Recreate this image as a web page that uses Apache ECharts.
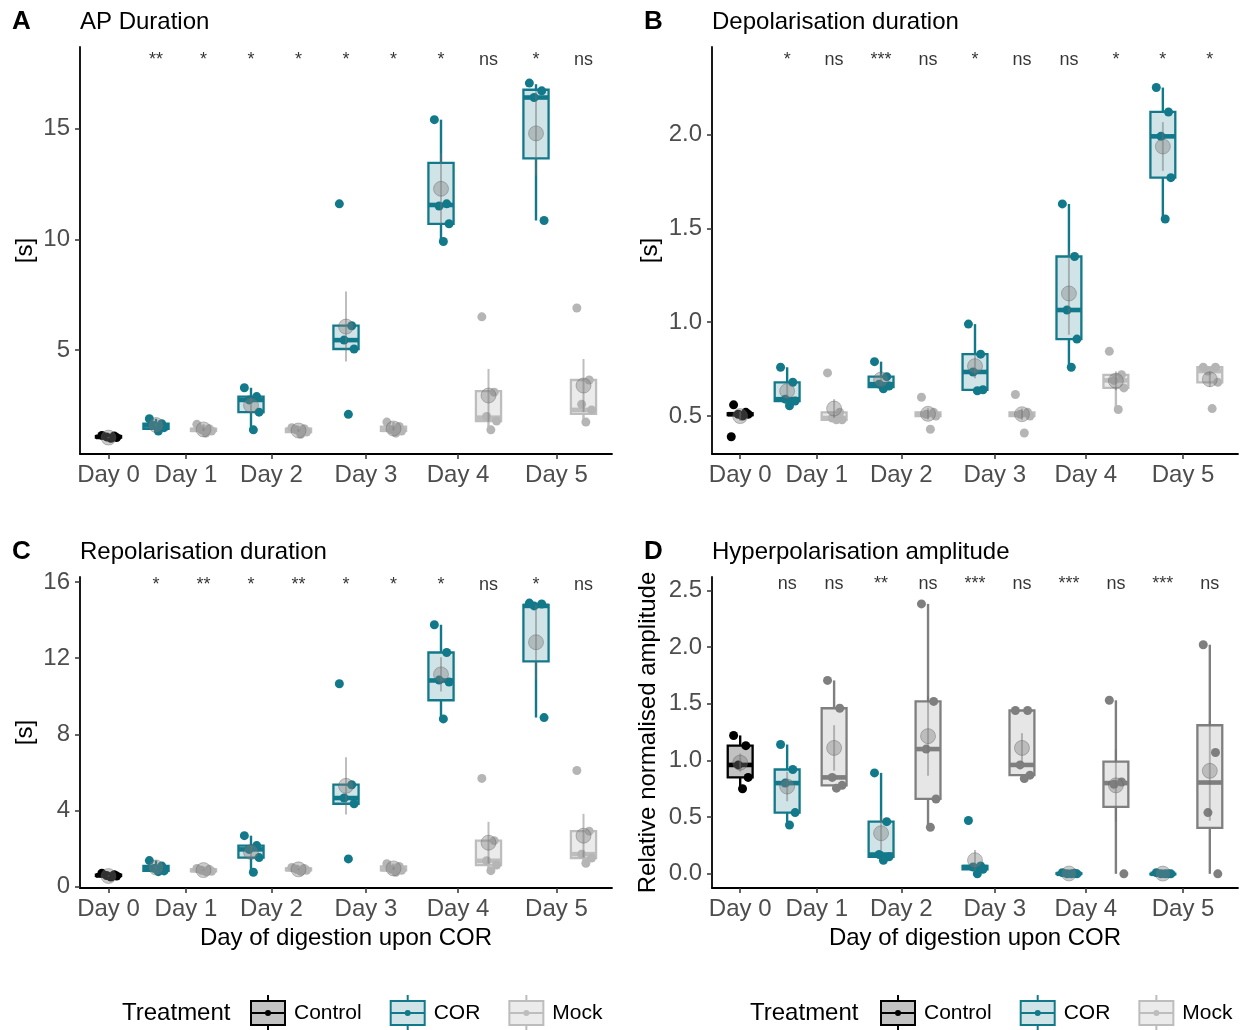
<!DOCTYPE html>
<html>
<head>
<meta charset="utf-8">
<script src="https://cdn.jsdelivr.net/npm/echarts@6/dist/echarts.min.js"></script>
<style>
html, body { margin: 0; background: #fff; }
#main { width: 1245px; height: 1030px; }
</style>
</head>
<body>
<div id="main"></div>
<script>
// groups along x: Day 0 control, then COR / Mock for days 1..5
var treatment = ['Control', 'COR', 'Mock', 'COR', 'Mock', 'COR', 'Mock', 'COR', 'Mock', 'COR', 'Mock'];
var dayTicks = [0, 1.63, 3.43, 5.42, 7.36, 9.43];
var dayLabels = ['Day 0', 'Day 1', 'Day 2', 'Day 3', 'Day 4', 'Day 5'];

// A - AP duration [s]; box = [min, q1, median, q3, max]
var apBox = [
  [1.02, 1.05, 1.08, 1.12, 1.15], [1.35, 1.45, 1.6, 1.68, 1.9], [1.25, 1.35, 1.4, 1.45, 1.65],
  [1.4, 2.2, 2.75, 2.9, 3.3], [1.2, 1.3, 1.4, 1.45, 1.5], [5.05, 5.05, 5.45, 6.1, 6.1],
  [1.25, 1.35, 1.4, 1.55, 1.75], [9.9, 10.7, 11.55, 13.45, 15.4], [1.4, 1.8, 1.95, 3.15, 3.15],
  [10.85, 13.65, 16.4, 16.75, 17.0], [1.75, 2.12, 2.3, 3.65, 3.65]
];
var apPoints = [
  [1.15, 1.12, 1.08, 1.05, 1.02], [1.9, 1.68, 1.6, 1.5, 1.35], [1.65, 1.45, 1.4, 1.35, 1.25],
  [3.3, 2.9, 2.75, 2.2, 1.4], [1.5, 1.45, 1.4, 1.3, 1.2], [11.6, 6.1, 5.45, 5.05, 2.1],
  [1.75, 1.55, 1.4, 1.35, 1.25], [15.4, 11.6, 11.5, 10.7, 9.9], [6.5, 3.1, 2.0, 1.8, 1.4],
  [17.05, 16.7, 16.4, 10.85], [6.9, 3.65, 2.55, 2.3, 1.75]
];
var apMean = [1.05, 1.62, 1.42, 2.51, 1.37, 6.06, 1.46, 12.28, 2.95, 14.78, 3.4];
var apSE = [0.03, 0.09, 0.07, 0.33, 0.05, 1.58, 0.09, 1.6, 1.2, 1.9, 1.2];
var apSig = ['**', '*', '*', '*', '*', '*', '*', 'ns', '*', 'ns'];

// B - depolarisation duration [s]
var depBox = [
  [0.5, 0.505, 0.51, 0.515, 0.52], [0.555, 0.58, 0.59, 0.68, 0.76], [0.48, 0.48, 0.49, 0.52, 0.52],
  [0.645, 0.655, 0.67, 0.71, 0.79], [0.5, 0.5, 0.51, 0.52, 0.52], [0.635, 0.64, 0.735, 0.83, 0.99],
  [0.5, 0.5, 0.51, 0.52, 0.52], [0.76, 0.91, 1.065, 1.35, 1.63], [0.535, 0.65, 0.69, 0.72, 0.72],
  [1.55, 1.77, 1.99, 2.12, 2.25], [0.68, 0.68, 0.74, 0.76, 0.76]
];
var depPoints = [
  [0.56, 0.52, 0.51, 0.51, 0.5, 0.39], [0.76, 0.68, 0.59, 0.58, 0.555], [0.73, 0.52, 0.49, 0.48, 0.48],
  [0.79, 0.71, 0.67, 0.66, 0.645], [0.6, 0.52, 0.51, 0.5, 0.43], [0.99, 0.83, 0.735, 0.64, 0.635],
  [0.615, 0.52, 0.51, 0.5, 0.41], [1.63, 1.35, 1.065, 0.91, 0.76], [0.845, 0.72, 0.69, 0.65, 0.535],
  [2.25, 2.12, 1.99, 1.77, 1.55], [0.76, 0.76, 0.74, 0.68, 0.54]
];
var depMean = [0.5, 0.633, 0.54, 0.695, 0.512, 0.766, 0.51, 1.153, 0.688, 1.936, 0.696];
var depSE = [0.025, 0.04, 0.05, 0.03, 0.03, 0.065, 0.03, 0.22, 0.05, 0.13, 0.04];
var depSig = ['*', 'ns', '***', 'ns', '*', 'ns', 'ns', '*', '*', '*'];

// C - repolarisation duration [s]
var repBox = [
  [0.5, 0.55, 0.58, 0.62, 0.7], [0.78, 0.82, 0.95, 1.08, 1.36], [0.78, 0.8, 0.85, 0.9, 0.95],
  [0.75, 1.52, 1.95, 2.15, 2.67], [0.8, 0.85, 0.9, 0.95, 1.0], [4.35, 4.35, 4.65, 5.35, 5.35],
  [0.75, 0.85, 0.9, 1.05, 1.2], [8.81, 9.79, 10.83, 12.3, 13.76], [0.83, 1.13, 1.35, 2.41, 2.41],
  [8.88, 11.83, 14.75, 14.8, 14.9], [1.22, 1.49, 1.7, 2.91, 2.91]
];
var repPoints = [
  [0.7, 0.62, 0.58, 0.55, 0.5], [1.36, 1.08, 0.95, 0.82, 0.78], [0.95, 0.9, 0.85, 0.8, 0.78],
  [2.67, 2.15, 1.95, 1.52, 0.75], [1.0, 0.95, 0.9, 0.85, 0.8], [10.66, 5.35, 4.65, 4.35, 1.45],
  [1.2, 1.05, 0.9, 0.85, 0.75], [13.76, 12.3, 10.85, 10.75, 8.81], [5.68, 2.41, 1.35, 1.13, 0.83],
  [14.9, 14.85, 14.75, 8.88], [6.1, 2.91, 1.7, 1.5, 1.22]
];
var repMean = [0.55, 1.0, 0.86, 1.81, 0.9, 5.29, 0.95, 11.15, 2.3, 12.84, 2.67];
var repSE = [0.03, 0.1, 0.03, 0.32, 0.03, 1.5, 0.08, 0.9, 1.1, 1.97, 1.15];
var repSig = ['*', '**', '*', '**', '*', '*', '*', 'ns', '*', 'ns'];

// D - hyperpolarisation amplitude (relative)
var hypBox = [
  [0.755, 0.85, 0.96, 1.13, 1.22], [0.43, 0.54, 0.8, 0.92, 1.14], [0.755, 0.78, 0.85, 1.46, 1.705],
  [0.12, 0.15, 0.17, 0.46, 0.89], [0.41, 0.66, 1.1, 1.52, 2.38], [0.0, 0.04, 0.06, 0.07, 0.07],
  [0.84, 0.87, 0.96, 1.44, 1.44], [0.0, 0.0, 0.0, 0.005, 0.01], [0.0, 0.59, 0.8, 0.99, 1.53],
  [0.0, 0.0, 0.0, 0.0, 0.01], [0.0, 0.405, 0.805, 1.31, 2.02]
];
var hypPoints = [
  [1.22, 1.13, 0.96, 0.85, 0.75], [1.14, 0.92, 0.8, 0.54, 0.43], [1.705, 1.46, 0.85, 0.78, 0.755],
  [0.89, 0.46, 0.17, 0.15, 0.12], [2.38, 1.52, 1.1, 0.66, 0.41], [0.47, 0.07, 0.06, 0.04, 0.0],
  [1.44, 1.44, 0.96, 0.87, 0.84], [0.01, 0.005, 0.0, 0.0, 0.0], [1.53, 0.81, 0.79, 0.0],
  [0.01, 0.0, 0.0, 0.0, 0.0], [2.02, 1.07, 0.54, 0.0]
];
var hypMean = [0.98, 0.77, 1.11, 0.358, 1.214, 0.12, 1.11, 0.003, 0.78, 0.002, 0.908];
var hypSE = [0.08, 0.13, 0.2, 0.15, 0.35, 0.09, 0.13, 0.003, 0.32, 0.002, 0.44];
var hypSig = ['ns', 'ns', '**', 'ns', '***', 'ns', '***', 'ns', '***', 'ns'];

var FONT = '"Liberation Sans", Arial, sans-serif';
var TEAL = '#12798a';
var JIT = [-0.14, 0.12, -0.04, 0.17, 0.05, -0.19];

var styles = {
  Control: { stroke: '#000', fill: '#c2c2c2', point: '#000' },
  COR: { stroke: TEAL, fill: 'rgba(18,121,138,0.2)', point: TEAL },
  Mock: { stroke: '#bdbdbd', fill: '#ebebeb', point: '#b5b5b5' },
  MockDark: { stroke: '#7f7f7f', fill: '#e6e6e6', point: '#7f7f7f' }
};

var panels = [
  { letter: 'A', title: 'AP Duration', box: apBox, points: apPoints, mean: apMean, se: apSE, sig: apSig, sigY: 18.1,
    left: 80, top: 47, width: 532, height: 407, yMin: 0.31, yMax: 18.68, yTicks: [5, 10, 15], dec: 0,
    yName: '[s]', nameGap: 43, xName: '', mock: 'Mock' },
  { letter: 'B', title: 'Depolarisation duration', box: depBox, points: depPoints, mean: depMean, se: depSE, sig: depSig, sigY: 2.394,
    left: 712, top: 47, width: 526, height: 407, yMin: 0.298, yMax: 2.466, yTicks: [0.5, 1.0, 1.5, 2.0], dec: 1,
    yName: '[s]', nameGap: 50, xName: '', mock: 'Mock' },
  { letter: 'C', title: 'Repolarisation duration', box: repBox, points: repPoints, mean: repMean, se: repSE, sig: repSig, sigY: 15.83,
    left: 80, top: 577, width: 532, height: 311, yMin: -0.08, yMax: 16.27, yTicks: [0, 4, 8, 12, 16], dec: 0,
    yName: '[s]', nameGap: 43, xName: 'Day of digestion upon COR', mock: 'Mock' },
  { letter: 'D', title: 'Hyperpolarisation amplitude', box: hypBox, points: hypPoints, mean: hypMean, se: hypSE, sig: hypSig, sigY: 2.553,
    left: 712, top: 577, width: 526, height: 311, yMin: -0.125, yMax: 2.617, yTicks: [0, 0.5, 1.0, 1.5, 2.0, 2.5], dec: 1,
    yName: 'Relative normalised amplitude', nameGap: 52, xName: 'Day of digestion upon COR', mock: 'MockDark' }
];

function makeBox(st) {
  return function (params, api) {
    var x = api.value(0);
    var lo = api.coord([x, api.value(1)]);
    var q1 = api.coord([x, api.value(2)]);
    var md = api.coord([x, api.value(3)]);
    var q3 = api.coord([x, api.value(4)]);
    var hi = api.coord([x, api.value(5)]);
    var w = api.size([0.53, 0])[0];
    var cx = lo[0];
    function seg(x1, y1, x2, y2, lw) {
      return { type: 'line', shape: { x1: x1, y1: y1, x2: x2, y2: y2 }, style: { stroke: st.stroke, lineWidth: lw } };
    }
    return {
      type: 'group',
      children: [
        seg(cx, hi[1], cx, q3[1], 2.4),
        seg(cx, q1[1], cx, lo[1], 2.4),
        { type: 'rect', shape: { x: cx - w / 2, y: q3[1], width: w, height: Math.max(q1[1] - q3[1], 0.5) },
          style: { fill: st.fill, stroke: st.stroke, lineWidth: 2.3 } },
        seg(cx - w / 2, md[1], cx + w / 2, md[1], 4.6)
      ]
    };
  };
}

function renderErr(params, api) {
  var a = api.coord([api.value(0), api.value(1)]);
  var b = api.coord([api.value(0), api.value(2)]);
  return { type: 'line', shape: { x1: a[0], y1: a[1], x2: b[0], y2: b[1] },
    style: { stroke: 'rgba(110,110,110,0.45)', lineWidth: 2 } };
}

var grids = [], xAxes = [], yAxes = [], series = [], titles = [];

panels.forEach(function (p, i) {
  grids.push({ left: p.left, top: p.top, width: p.width, height: p.height });
  xAxes.push({
    type: 'value', gridIndex: i, min: -0.6, max: 10.6,
    name: p.xName, nameLocation: 'middle', nameGap: 38,
    nameTextStyle: { fontSize: 24, color: '#000', fontFamily: FONT },
    axisLine: { show: true, onZero: false, lineStyle: { color: '#000', width: 1.8 } },
    axisTick: { show: true, customValues: dayTicks, length: 5, lineStyle: { color: '#333', width: 1.5 } },
    axisLabel: { customValues: dayTicks, margin: 9, fontSize: 24, color: '#4d4d4d', fontFamily: FONT,
      formatter: function (v) { return dayLabels[dayTicks.indexOf(v)]; } },
    splitLine: { show: false }
  });
  yAxes.push({
    type: 'value', gridIndex: i, min: p.yMin, max: p.yMax,
    name: p.yName, nameLocation: 'middle', nameGap: p.nameGap,
    nameTextStyle: { fontSize: 24, color: '#000', fontFamily: FONT },
    axisLine: { show: true, onZero: false, lineStyle: { color: '#000', width: 1.8 } },
    axisTick: { show: true, customValues: p.yTicks, length: 5, lineStyle: { color: '#333', width: 1.5 } },
    axisLabel: { customValues: p.yTicks, margin: 10, fontSize: 24, color: '#4d4d4d', fontFamily: FONT,
      formatter: (function (dec) { return function (v) { return v.toFixed(dec); }; })(p.dec) },
    splitLine: { show: false }
  });

  ['Control', 'COR', 'Mock'].forEach(function (t) {
    var st = styles[t === 'Mock' ? p.mock : t];
    var boxData = [], ptData = [];
    treatment.forEach(function (tr, pos) {
      if (tr !== t) return;
      boxData.push([pos].concat(p.box[pos]));
      p.points[pos].forEach(function (v, k) { ptData.push([pos + JIT[k % JIT.length], v]); });
    });
    series.push({
      type: 'custom', name: t, xAxisIndex: i, yAxisIndex: i, z: 2,
      renderItem: makeBox(st), encode: { x: 0, y: [1, 2, 3, 4, 5] }, data: boxData
    });
    series.push({
      type: 'scatter', name: t, xAxisIndex: i, yAxisIndex: i, z: 3,
      symbolSize: 9, itemStyle: { color: st.point, opacity: 1 }, data: ptData
    });
  });

  series.push({
    type: 'custom', name: 'se', xAxisIndex: i, yAxisIndex: i, z: 4, renderItem: renderErr,
    encode: { x: 0, y: [1, 2] },
    data: p.mean.map(function (m, pos) { return [pos, m - p.se[pos], m + p.se[pos]]; })
  });
  series.push({
    type: 'scatter', name: 'mean', xAxisIndex: i, yAxisIndex: i, z: 5, symbolSize: 15,
    itemStyle: { color: 'rgba(125,125,125,0.5)', borderColor: 'rgba(90,90,90,0.45)', borderWidth: 1 },
    data: p.mean.map(function (m, pos) { return [pos, m]; })
  });
  series.push({
    type: 'scatter', name: 'sig', xAxisIndex: i, yAxisIndex: i, z: 6, symbolSize: 1,
    itemStyle: { color: 'rgba(0,0,0,0)' },
    label: { show: true, position: 'inside', fontSize: 18, color: '#000', fontFamily: FONT, verticalAlign: 'middle',
      formatter: function (d) { return d.data[2]; } },
    data: p.sig.map(function (s, k) { return [k + 1, p.sigY, s]; })
  });

  titles.push({ text: p.letter, left: p.left - 68, top: p.top - 38, padding: 0,
    textStyle: { fontSize: 26, fontWeight: 'bold', color: '#000', fontFamily: FONT } });
  titles.push({ text: p.title, left: p.left, top: p.top - 37, padding: 0,
    textStyle: { fontSize: 24, fontWeight: 'normal', color: '#000', fontFamily: FONT } });
});

titles.push({ text: 'Treatment', left: 122, top: 1001, padding: 0, textStyle: { fontSize: 24, fontWeight: 'normal', color: '#000', fontFamily: FONT } });
titles.push({ text: 'Treatment', left: 750, top: 1001, padding: 0, textStyle: { fontSize: 24, fontWeight: 'normal', color: '#000', fontFamily: FONT } });

var BOXICON = 'path://M0,6H34V30H0Z M0,18H34 M17,0V6 M17,30V36 M15,18a2,2 0 1,0 4,0a2,2 0 1,0 -4,0';
var legendItems = ['Control', 'COR', 'Mock'].map(function (t) {
  var st = styles[t];
  return { name: t, icon: BOXICON, itemStyle: { color: st.fill, borderColor: st.stroke, borderWidth: 2 } };
});

var chart = echarts.init(document.getElementById('main'));
chart.setOption({
  animation: false,
  backgroundColor: '#fff',
  title: titles,
  grid: grids,
  xAxis: xAxes,
  yAxis: yAxes,
  legend: [250, 880].map(function (x) {
    return {
      left: x, top: 994, padding: 0, itemWidth: 34, itemHeight: 36, itemGap: 28, selectedMode: false,
      textStyle: { fontSize: 21, color: '#000', fontFamily: FONT, padding: [0, 0, 0, 4] },
      data: legendItems
    };
  }),
  series: series
});
</script>
</body>
</html>
